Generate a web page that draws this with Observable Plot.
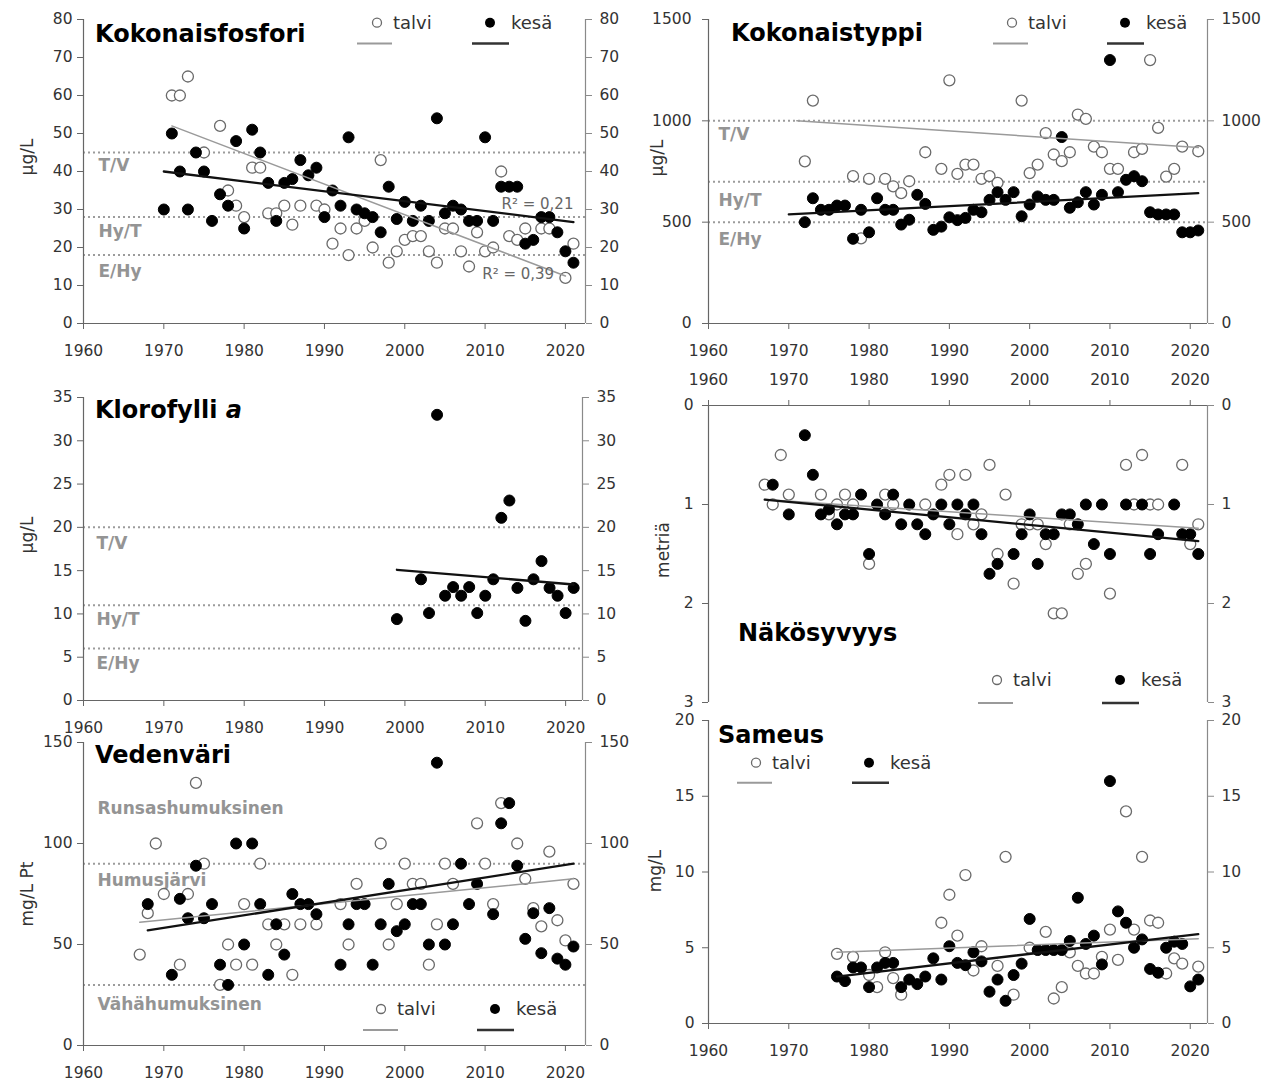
<!DOCTYPE html>
<html><head><meta charset="utf-8">
<script src="https://cdn.jsdelivr.net/npm/d3@7"></script>
<script src="https://cdn.jsdelivr.net/npm/@observablehq/plot@0.6"></script>
<style>
html,body{margin:0;padding:0;background:#fff;}
#root{position:relative;width:1280px;height:1084px;overflow:hidden;font-family:"DejaVu Sans",sans-serif;}
.panel{position:absolute;}
#overlay{position:absolute;left:0;top:0;pointer-events:none;}
</style></head><body><div id="root"></div>
<script>
// ---------- shared ----------
const decades = [1960, 1970, 1980, 1990, 2000, 2010, 2020];
const seriesNames = ["talvi", "kesä"];

// ---------- Kokonaisfosfori (µg/L) ----------
const fosforiTalvi = [[1971,60],[1972,60],[1973,65],[1975,45],[1977,52],[1978,35],[1979,31],[1980,28],[1981,41],[1982,41],[1983,29],[1984,29],[1985,31],[1986,26],[1987,31],[1989,31],[1990,30],[1991,21],[1992,25],[1993,18],[1994,25],[1995,27],[1996,20],[1997,43],[1998,16],[1999,19],[2000,22],[2001,23],[2002,23],[2003,19],[2004,16],[2005,25],[2006,25],[2007,19],[2008,15],[2009,24],[2010,19],[2011,20],[2012,40],[2013,23],[2014,22],[2015,25],[2017,25],[2018,25],[2020,12],[2021,21]];
const fosforiKesa = [[1970,30],[1971,50],[1972,40],[1973,30],[1974,45],[1975,40],[1976,27],[1977,34],[1978,31],[1979,48],[1980,25],[1981,51],[1982,45],[1983,37],[1984,27],[1985,37],[1986,38],[1987,43],[1988,39],[1989,41],[1990,28],[1991,35],[1992,31],[1993,49],[1994,30],[1995,29],[1996,28],[1997,24],[1998,36],[1999,27.5],[2000,32],[2001,27],[2002,31],[2003,27],[2004,54],[2005,29],[2006,31],[2007,30],[2008,27],[2009,27],[2010,49],[2011,27],[2012,36],[2013,36],[2014,36],[2015,21],[2016,22],[2017,28],[2018,28],[2019,24],[2020,19],[2021,16]];
const fosforiTrendTalvi = [[1971,52],[2020,12.5]];
const fosforiTrendKesa = [[1970,40],[2021,26.7]];
const fosforiLimits = [45, 28, 18];
const fosforiZones = ["T/V", "Hy/T", "E/Hy"];
const fosforiZoneAt = [41.6, 24.2, 13.7];
const fosforiR2 = [[2021, 31.3, "R² = 0,21"], [2018.6, 12.9, "R² = 0,39"]];

// ---------- Kokonaistyppi (µg/L) ----------
const typpiTalvi = [[1972,800],[1973,1100],[1978,727],[1979,420],[1980,714],[1982,714],[1983,677],[1984,643],[1985,702],[1987,845],[1989,763],[1990,1200],[1991,738],[1992,784],[1993,784],[1994,714],[1995,727],[1996,694],[1999,1100],[2000,742],[2001,784],[2002,939],[2003,834],[2004,801],[2005,845],[2006,1031],[2007,1010],[2008,873],[2009,845],[2010,763],[2011,763],[2013,845],[2014,862],[2015,1300],[2016,965],[2017,725],[2018,763],[2019,873],[2021,850]];
const typpiKesa = [[1972,500],[1973,618],[1974,561],[1975,561],[1976,582],[1977,582],[1978,418],[1979,561],[1980,450],[1981,618],[1982,561],[1983,561],[1984,488],[1985,512],[1986,635],[1987,590],[1988,462],[1989,478],[1990,524],[1991,510],[1992,521],[1993,561],[1994,549],[1995,610],[1996,648],[1997,610],[1998,648],[1999,529],[2000,587],[2001,627],[2002,610],[2003,610],[2004,920],[2005,571],[2006,598],[2007,648],[2008,587],[2009,635],[2010,1300],[2011,648],[2012,709],[2013,727],[2014,702],[2015,549],[2016,538],[2017,538],[2018,538],[2019,450],[2020,450],[2021,459]];
const typpiTrendTalvi = [[1971,1000],[2021,868]];
const typpiTrendKesa = [[1970,538],[2021,643]];
const typpiLimits = [1000, 700, 500];
const typpiZones = ["T/V", "Hy/T", "E/Hy"];
const typpiZoneAt = [930, 607, 412];

// ---------- Klorofylli a (µg/L) ----------
const klorofylliKesa = [[1999,9.4],[2002,14.0],[2003,10.1],[2004,33.0],[2005,12.1],[2006,13.1],[2007,12.1],[2008,13.1],[2009,10.1],[2010,12.1],[2011,14.0],[2012,21.1],[2013,23.1],[2014,13.0],[2015,9.2],[2016,14.0],[2017,16.1],[2018,13.0],[2019,12.1],[2020,10.1],[2021,13.0]];
const klorofylliTrendKesa = [[1999,15.1],[2021,13.4]];
const klorofylliLimits = [20, 11, 6];
const klorofylliZones = ["T/V", "Hy/T", "E/Hy"];
const klorofylliZoneAt = [18.1, 9.35, 4.27];

// ---------- Näkösyvyys (metriä) ----------
const nakoTalvi = [[1967,0.8],[1968,1.0],[1969,0.5],[1970,0.9],[1974,0.9],[1975,1.1],[1976,1.0],[1977,0.9],[1978,1.0],[1980,1.6],[1982,0.9],[1983,1.0],[1987,1.0],[1989,0.8],[1990,0.7],[1991,1.3],[1992,0.7],[1993,1.2],[1994,1.1],[1995,0.6],[1996,1.5],[1997,0.9],[1998,1.8],[1999,1.2],[2000,1.2],[2001,1.2],[2002,1.4],[2003,2.1],[2004,2.1],[2005,1.2],[2006,1.7],[2007,1.6],[2010,1.9],[2012,0.6],[2013,1.0],[2014,0.5],[2015,1.0],[2016,1.0],[2019,0.6],[2020,1.4],[2021,1.2]];
const nakoKesa = [[1968,0.8],[1970,1.1],[1972,0.3],[1973,0.7],[1974,1.1],[1975,1.05],[1976,1.2],[1977,1.1],[1978,1.1],[1979,0.9],[1980,1.5],[1981,1.0],[1982,1.1],[1983,0.9],[1984,1.2],[1985,1.0],[1986,1.2],[1987,1.3],[1988,1.1],[1989,1.0],[1990,1.2],[1991,1.0],[1992,1.1],[1993,1.0],[1994,1.3],[1995,1.7],[1996,1.6],[1998,1.5],[1999,1.3],[2000,1.1],[2001,1.6],[2002,1.3],[2003,1.3],[2004,1.1],[2005,1.1],[2006,1.2],[2007,1.0],[2008,1.4],[2009,1.0],[2010,1.5],[2012,1.0],[2014,1.0],[2015,1.5],[2016,1.3],[2018,1.0],[2019,1.3],[2020,1.3],[2021,1.5]];
const nakoTrendTalvi = [[1967,0.95],[2021,1.24]];
const nakoTrendKesa = [[1967,0.95],[2021,1.37]];

// ---------- Vedenväri (mg/L Pt) ----------
const variTalvi = [[1967,45],[1968,65.5],[1969,100],[1970,75],[1972,40],[1973,75],[1974,130],[1975,90],[1977,30],[1978,50],[1979,40],[1980,70],[1981,40],[1982,90],[1983,60],[1984,50],[1985,60],[1986,35],[1987,60],[1989,60],[1992,70],[1993,50],[1994,80],[1997,100],[1998,50],[1999,70],[2000,90],[2001,80],[2002,80],[2003,40],[2004,60],[2005,90],[2006,80],[2009,110],[2010,90],[2011,70],[2012,120],[2014,100],[2015,82.5],[2016,68],[2017,59],[2018,96],[2019,62],[2020,52],[2021,80]];
const variKesa = [[1968,70],[1971,35],[1972,72.6],[1973,63],[1974,89],[1975,63],[1976,70],[1977,40],[1978,30],[1979,100],[1980,50],[1981,100],[1982,70],[1983,35],[1984,60],[1985,45],[1986,75],[1987,70],[1988,70],[1989,65],[1992,40],[1993,60],[1994,70],[1995,70],[1996,40],[1997,60],[1998,80],[1999,56.6],[2000,60],[2001,70],[2002,70],[2003,50],[2004,140],[2005,50],[2006,60],[2007,90],[2008,70],[2009,80],[2011,65],[2012,110],[2013,120],[2014,89],[2015,52.8],[2016,65.5],[2017,45.7],[2018,68],[2019,43],[2020,40],[2021,49]];
const variTrendTalvi = [[1967,61],[2021,82.5]];
const variTrendKesa = [[1968,57],[2021,90]];
const variLimits = [90, 30];
const variZones = ["Runsashumuksinen", "Humusjärvi", "Vähähumuksinen"];
const variZoneAt = [117.3, 81.7, 20.3];

// ---------- Sameus (mg/L) ----------
const sameusTalvi = [[1976,4.6],[1978,4.4],[1980,3.2],[1981,2.4],[1982,4.7],[1983,3.0],[1984,1.9],[1989,6.65],[1990,8.5],[1991,5.8],[1992,9.8],[1993,3.5],[1994,5.1],[1996,3.8],[1997,11],[1998,1.9],[2000,5.0],[2002,6.05],[2003,1.65],[2004,2.4],[2005,4.7],[2006,3.8],[2007,3.3],[2008,3.3],[2009,4.4],[2010,6.2],[2011,4.2],[2012,14],[2013,6.2],[2014,11],[2015,6.8],[2016,6.65],[2017,3.3],[2018,4.3],[2019,3.95],[2021,3.75]];
const sameusKesa = [[1976,3.1],[1977,2.8],[1978,3.7],[1979,3.7],[1980,2.4],[1981,3.7],[1982,4.0],[1983,4.0],[1984,2.4],[1985,2.9],[1986,2.6],[1987,3.1],[1988,4.3],[1989,2.9],[1990,5.1],[1991,4.0],[1992,3.85],[1993,4.7],[1994,4.1],[1995,2.1],[1996,2.9],[1997,1.5],[1998,3.2],[1999,3.95],[2000,6.9],[2001,4.85],[2002,4.85],[2003,4.85],[2004,4.85],[2005,5.45],[2006,8.3],[2007,5.25],[2008,5.8],[2009,3.9],[2010,16],[2011,7.4],[2012,6.65],[2013,5.0],[2014,5.55],[2015,3.6],[2016,3.35],[2017,5.0],[2018,5.4],[2019,5.25],[2020,2.45],[2021,2.9]];
const sameusTrendTalvi = [[1976,4.7],[2021,5.6]];
const sameusTrendKesa = [[1976,3.1],[2021,5.9]];

// ---------- panel builder ----------
const root = document.getElementById("root");
function panel(c) {
  const X = d => d[0], Y = d => d[1];
  const zoneData = (c.zones || []).map((n, i) => [n, c.zoneAt[i]]);
  const marks = [
    Plot.ruleY(c.limits || [], {y: d => d, stroke: "#9c9c9c", strokeWidth: 2, strokeDasharray: "2 3"}),
    Plot.text(zoneData, {y: d => d[1], text: d => d[0], frameAnchor: "left", dx: c.zoneDx, textAnchor: "start",
      fontSize: 17, fontWeight: "bold", fill: "#949494"}),
    Plot.ruleY([0], {stroke: "#666", strokeWidth: 1.2}),
    Plot.ruleX([1960], {stroke: "#666", strokeWidth: 1.2}),
    Plot.ruleX([c.xMax], {stroke: "#8a8a8a", strokeWidth: 1.2}),
    Plot.axisX({anchor: c.xAnchor || "bottom", ticks: decades, tickFormat: d => String(d), tickSize: 6,
      tickPadding: 15, stroke: "#666", fill: "#333", label: null}),
    Plot.axisY({anchor: "left", ticks: c.yTicks, tickFormat: d => String(d), tickSize: 6, tickPadding: c.padL,
      stroke: "#666", fill: "#333", label: null}),
    Plot.axisY({anchor: "right", ticks: c.yTicks, tickFormat: d => String(d), tickSize: 6, tickPadding: 8,
      stroke: "#8a8a8a", fill: "#333", label: null}),
    Plot.dot(c.talvi || [], {x: X, y: Y, r: 5.5, fill: "white", stroke: "#6a6a6a", strokeWidth: 1.3}),
    Plot.dot(c.kesa || [], {x: X, y: Y, r: 5.5, fill: "#000", stroke: "#000", strokeWidth: 1}),
    Plot.line(c.trendT || [], {x: X, y: Y, stroke: "#9a9a9a", strokeWidth: 1.5}),
    Plot.line(c.trendK || [], {x: X, y: Y, stroke: "#111", strokeWidth: 2.3}),
    Plot.text(c.notes || [], {x: X, y: Y, text: d => d[2], textAnchor: "end", fontSize: 15, fill: "#666"})
  ];
  const svg = Plot.plot({
    width: c.width, height: c.height,
    marginLeft: c.mL, marginRight: c.mR, marginTop: c.mT, marginBottom: c.mB,
    x: {domain: [1960, c.xMax]},
    y: {domain: [0, c.yMax], reverse: !!c.reverse},
    style: {fontFamily: "DejaVu Sans, sans-serif", fontSize: "15.5px", color: "#333", background: "none", overflow: "visible"},
    marks
  });
  const div = document.createElement("div");
  div.className = "panel";
  div.style.left = c.left + "px"; div.style.top = c.top + "px";
  div.appendChild(svg);
  root.appendChild(div);
}

panel({left: 0, top: 0, width: 640, height: 365, mL: 83, mR: 55, mT: 19, mB: 42, xMax: 2022.5, yMax: 80, padL: 5,
  yTicks: [0,10,20,30,40,50,60,70,80], talvi: fosforiTalvi, kesa: fosforiKesa, trendT: fosforiTrendTalvi, trendK: fosforiTrendKesa,
  limits: fosforiLimits, zones: fosforiZones, zoneAt: fosforiZoneAt, zoneDx: 15, notes: fosforiR2});
panel({left: 640, top: 0, width: 640, height: 365, mL: 68, mR: 73, mT: 19, mB: 42, xMax: 2022.15, yMax: 1500, padL: 11,
  yTicks: [0,500,1000,1500], talvi: typpiTalvi, kesa: typpiKesa, trendT: typpiTrendTalvi, trendK: typpiTrendKesa,
  limits: typpiLimits, zones: typpiZones, zoneAt: typpiZoneAt, zoneDx: 10});
panel({left: 0, top: 370, width: 640, height: 370, mL: 83, mR: 58, mT: 27, mB: 40, xMax: 2022.1, yMax: 35, padL: 5,
  yTicks: [0,5,10,15,20,25,30,35], kesa: klorofylliKesa, trendK: klorofylliTrendKesa,
  limits: klorofylliLimits, zones: klorofylliZones, zoneAt: klorofylliZoneAt, zoneDx: 13});
panel({left: 640, top: 370, width: 640, height: 345, mL: 68, mR: 73, mT: 35, mB: 13, xMax: 2022.15, yMax: 3, reverse: true, padL: 9,
  xAnchor: "top", yTicks: [0,1,2,3], talvi: nakoTalvi, kesa: nakoKesa, trendT: nakoTrendTalvi, trendK: nakoTrendKesa});
panel({left: 0, top: 730, width: 640, height: 354, mL: 83, mR: 55, mT: 12, mB: 39, xMax: 2022.5, yMax: 150, padL: 5,
  yTicks: [0,50,100,150], talvi: variTalvi, kesa: variKesa, trendT: variTrendTalvi, trendK: variTrendKesa,
  limits: variLimits, zones: variZones, zoneAt: variZoneAt, zoneDx: 14});
panel({left: 640, top: 710, width: 640, height: 374, mL: 68, mR: 73, mT: 10, mB: 61, xMax: 2022.15, yMax: 20, padL: 8,
  yTicks: [0,5,10,15,20], talvi: sameusTalvi, kesa: sameusKesa, trendT: sameusTrendTalvi, trendK: sameusTrendKesa});

// ---------- titles, axis titles, legends ----------
const ov = d3.select(root).append("svg").attr("id", "overlay").attr("width", 1280).attr("height", 1084)
  .style("font-family", "DejaVu Sans, sans-serif");
const titles = [["Kokonaisfosfori", 95, 42], ["Kokonaistyppi", 731, 41], ["Klorofylli ", 95, 418], ["Näkösyvyys", 738, 641], ["Vedenväri", 95, 763], ["Sameus", 718, 743]];
titles.forEach(([t, x, y]) => {
  const el = ov.append("text").attr("x", x).attr("y", y).attr("font-size", 24).attr("font-weight", "bold").attr("fill", "#000").text(t);
  if (t === "Klorofylli ") el.append("tspan").attr("font-style", "italic").text("a");
});
const yTitles = [["µg/L", 27, 157], ["µg/L", 657, 158], ["µg/L", 27, 535], ["metriä", 663, 550], ["mg/L Pt", 27, 894], ["mg/L", 655, 871]];
yTitles.forEach(([t, x, y]) => {
  ov.append("text").attr("transform", `translate(${x},${y}) rotate(-90)`).attr("text-anchor", "middle")
    .attr("dominant-baseline", "central").attr("font-size", 17).attr("fill", "#333").text(t);
});
// legend anchors: [circleTalviX, circleKesaX, markerY, lineTalviX1, lineKesaX1, lineY]
const legends = [[377, 490, 22.7, 357, 472, 43.5], [1012, 1125, 22.7, 993, 1107, 43.5], [997, 1120, 680, 978, 1102, 703],
  [381, 495, 1009, 363, 477, 1030], [756, 869, 762.7, 737, 852, 782.7]];
legends.forEach(([cx1, cx2, cy, lx1, lx2, ly]) => {
  ov.append("circle").attr("cx", cx1).attr("cy", cy).attr("r", 4.5).attr("fill", "white").attr("stroke", "#6a6a6a").attr("stroke-width", 1.3);
  ov.append("text").attr("x", cx1 + 16).attr("y", cy + 6).attr("font-size", 18).attr("fill", "#333").text(seriesNames[0]);
  ov.append("circle").attr("cx", cx2).attr("cy", cy).attr("r", 5).attr("fill", "#000");
  ov.append("text").attr("x", cx2 + 21).attr("y", cy + 6).attr("font-size", 18).attr("fill", "#333").text(seriesNames[1]);
  ov.append("line").attr("x1", lx1).attr("x2", lx1 + 35).attr("y1", ly).attr("y2", ly).attr("stroke", "#9a9a9a").attr("stroke-width", 2);
  ov.append("line").attr("x1", lx2).attr("x2", lx2 + 37).attr("y1", ly).attr("y2", ly).attr("stroke", "#333").attr("stroke-width", 2.5);
});
</script>
</body></html>
